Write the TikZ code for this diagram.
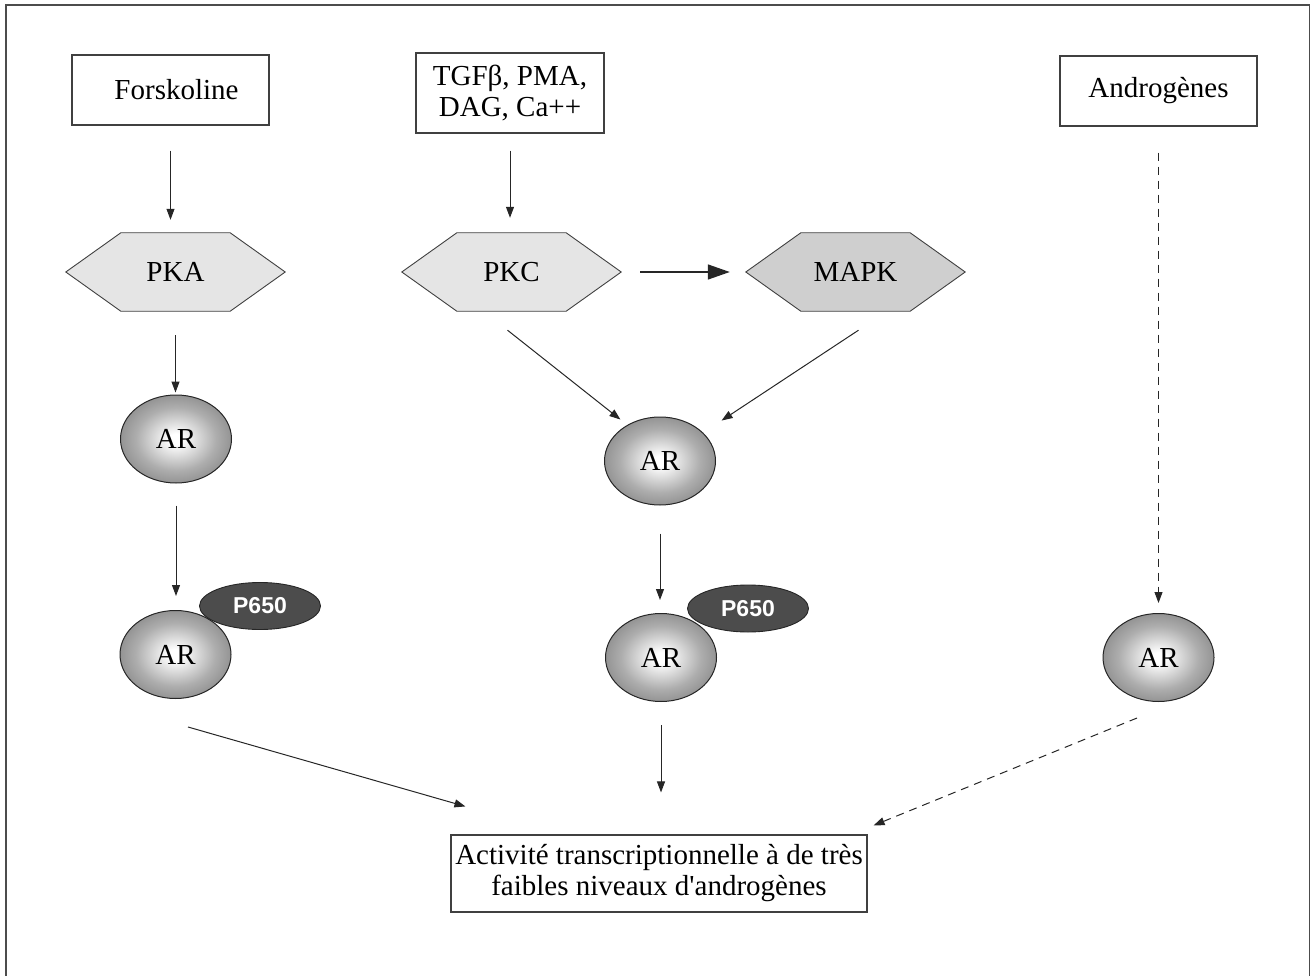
\documentclass[tikz,border=0pt]{standalone}
\usepackage{fontspec}
\setmainfont{Liberation Serif}[Ligatures=TeXOff]
\newfontfamily\pfont{Liberation Sans}
\usetikzlibrary{arrows.meta,backgrounds,shapes.geometric}
\pgfdeclareradialshading{arshade}{\pgfpoint{0bp}{0bp}}{color(0bp)=(white); color(3bp)=(white); color(18bp)=(black!32); color(32bp)=(black!52); color(45bp)=(black!60); color(75bp)=(black!60)}
\begin{document}
\begin{tikzpicture}[x=1pt,y=-1pt,
  every node/.style={font=\fontsize{29}{31}\selectfont},
  box/.style={draw=black!75, line width=1.1pt, fill=white, align=center, inner sep=0pt},
  hexnode/.style={minimum width=219pt, minimum height=78pt, inner sep=0pt},
  hexfill/.style={draw=black!75, line width=0.9pt},
  arnode/.style={ellipse, draw=black!85, line width=1pt, shading=arshade, minimum width=111pt, minimum height=88pt, inner sep=0pt},
  pnode/.style={ellipse, draw=black!85, line width=0.9pt, fill=black!70, text=white, font=\pfont\bfseries\fontsize{23}{26}\selectfont, minimum width=121pt, minimum height=47pt, inner sep=0pt},
  arr/.style={draw=black!85, line width=1pt, -{Triangle[length=11pt,width=8pt]}},
  darr/.style={arr, dash pattern=on 8pt off 6pt},
]
\useasboundingbox (0,0) rectangle (1311,976);
\clip (0,0) rectangle (1311,976);
\draw[black!70, line width=1.8pt] (6,5) rectangle (1309.5,1000);

% top boxes
\node[box, minimum width=197pt, minimum height=70pt] (fors) at (170.5,90) {\hspace*{12pt}Forskoline};
\node[box, minimum width=188pt, minimum height=80pt] (tgf) at (510,93) {TGFβ, PMA,\\DAG, Ca++};
\node[box, minimum width=197pt, minimum height=70pt] (andr) at (1158.5,91) {Androgènes};

% hexagons
\node[hexnode] (pka) at (175.5,272) {PKA};
\node[hexnode] (pkc) at (511.5,272) {PKC};
\node[hexnode] (mapk) at (855.5,272) {MAPK};
\begin{scope}[on background layer]
\foreach \n/\c in {pka/black!10, pkc/black!10, mapk/black!19}{
  \draw[hexfill, fill=\c] (\n.west) -- ([xshift=55pt]\n.north west) -- ([xshift=-55pt]\n.north east)
    -- (\n.east) -- ([xshift=-55pt]\n.south east) -- ([xshift=55pt]\n.south west) -- cycle;
}
\end{scope}

% P650 and AR
\node[arnode] (ar1) at (176,439) {AR};
\node[pnode] (p1) at (260,606) {P650};
\node[arnode] (ar2) at (175.5,654.5) {AR};
\node[arnode] (arm) at (660,461) {AR};
\node[pnode] (p2) at (748,608.5) {P650};
\node[arnode] (arm2) at (661,657.5) {AR};
\node[arnode] (arr) at (1158.5,657.5) {AR};

% bottom box
\node[box, minimum width=416pt, minimum height=77pt] (act) at (659,873.5) {Activité transcriptionnelle à de très\\faibles niveaux d'androgènes};

% connectors
\draw[arr, shorten <=25pt, shorten >=13pt] (fors.south) -- (fors.south |- pka.north);
\draw[arr, shorten <=17pt, shorten >=15pt] (tgf.south) -- (tgf.south |- pkc.north);
\draw[arr, -{Triangle[length=22pt,width=15pt]}, line width=1.5pt, shorten <=19pt, shorten >=16pt] (pkc.east) -- (mapk.west);
\draw[arr, shorten <=24pt, shorten >=2pt] (pka.south) -- (pka.south |- ar1.north);
\draw[arr, shorten <=22pt, shorten >=14pt] (ar1.south) -- (ar1.south |- ar2.north);
\draw[arr] ([shift={(-4,19)}]pkc.south) -- ([shift={(0,-10)}]arm.north west);
\draw[arr] ([shift={(3,19)}]mapk.south) -- ([shift={(22,-9)}]arm.north east);
\draw[arr, shorten <=28pt, shorten >=13pt] (arm.south) -- (arm.south |- arm2.north);
\draw[arr, shorten <=23pt, shorten >=42pt] (arm2.south) -- (arm2.south |- act.north);
\draw[arr] ([shift={(12.5,28)}]ar2.south) -- ([shift={(15,-28)}]act.north west);
\draw[darr] ([shift={(-21.5,16)}]arr.south) -- ([shift={(6,-9)}]act.north east);
\draw[darr, shorten <=26pt, shorten >=10pt] (andr.south) -- (andr.south |- arr.north);
\end{tikzpicture}
\end{document}
